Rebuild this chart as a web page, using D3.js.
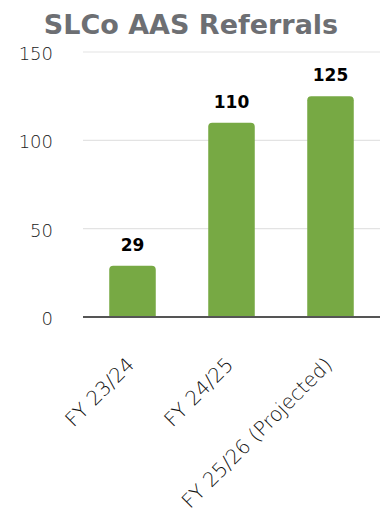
<!DOCTYPE html>
<html>
<head>
<meta charset="utf-8">
<script src="https://cdn.jsdelivr.net/npm/d3@7"></script>
<style>
  html, body { margin: 0; padding: 0; background: #fff; }
  svg { display: block; }
</style>
</head>
<body>
<script>
// Referral counts by fiscal year
const categories = ["FY 23/24", "FY 24/25", "FY 25/26 (Projected)"];
const referrals = [29, 110, 125];
const yTicks = [0, 50, 100, 150];

const W = 384, H = 515;
const plot = { left: 83, right: 380, top: 52, bottom: 317 };
const font = "'DejaVu Sans', sans-serif";

const svg = d3.select("body").append("svg")
  .attr("width", W).attr("height", H);

// Title
svg.append("text")
  .attr("x", 191).attr("y", 34)
  .attr("text-anchor", "middle")
  .attr("font-family", font)
  .attr("font-weight", 700)
  .attr("font-size", 27)
  .attr("fill", "#6d6f73")
  .text("SLCo AAS Referrals");

const x = d3.scaleBand()
  .domain(categories)
  .range([plot.left, plot.right])
  .paddingInner(0.53)
  .paddingOuter(0.265);

const y = d3.scaleLinear()
  .domain([0, 150])
  .range([plot.bottom, plot.top]);

// Gridlines
svg.append("g")
  .selectAll("line")
  .data(yTicks.filter(d => d > 0))
  .join("line")
  .attr("x1", plot.left).attr("x2", plot.right)
  .attr("y1", d => y(d)).attr("y2", d => y(d))
  .attr("stroke", "#e3e3e3").attr("stroke-width", 1.2);

// Y axis labels
const yAxis = svg.append("g")
  .attr("transform", `translate(${plot.left - 30},0)`)
  .call(d3.axisLeft(y).tickValues(yTicks).tickSize(0).tickPadding(0));
yAxis.select(".domain").remove();
yAxis.selectAll("text")
  .attr("font-family", font)
  .attr("font-weight", 200)
  .attr("font-size", 18)
  .attr("fill", "#222")
  .attr("dy", "0.42em");

// Bars with rounded tops
const r = 4;
function barPath(d, i) {
  const x0 = x(categories[i]), w = x.bandwidth();
  const y0 = y(d), y1 = y(0);
  return `M${x0},${y1} V${y0 + r} Q${x0},${y0} ${x0 + r},${y0} H${x0 + w - r} Q${x0 + w},${y0} ${x0 + w},${y0 + r} V${y1} Z`;
}
svg.append("g")
  .selectAll("path")
  .data(referrals)
  .join("path")
  .attr("d", (d, i) => barPath(d, i))
  .attr("fill", "#77a944");

// Baseline
svg.append("line")
  .attr("x1", plot.left).attr("x2", plot.right)
  .attr("y1", y(0)).attr("y2", y(0))
  .attr("stroke", "#555").attr("stroke-width", 2);

// Value labels
svg.append("g")
  .selectAll("text")
  .data(referrals)
  .join("text")
  .attr("x", (d, i) => x(categories[i]) + x.bandwidth() / 2)
  .attr("y", d => y(d) - 15)
  .attr("text-anchor", "middle")
  .attr("font-family", font)
  .attr("font-weight", 700)
  .attr("font-size", 17)
  .attr("fill", "#000")
  .text(d => d);

// Category labels, rotated
svg.append("g")
  .selectAll("text")
  .data(categories)
  .join("text")
  .attr("transform", d => `translate(${x(d) + x.bandwidth() / 2 + 3},${y(0) + 49}) rotate(-45)`)
  .attr("text-anchor", "end")
  .attr("font-family", font)
  .attr("font-weight", 200)
  .attr("font-size", 20)
  .attr("fill", "#111")
  .text(d => d);
</script>
</body>
</html>
